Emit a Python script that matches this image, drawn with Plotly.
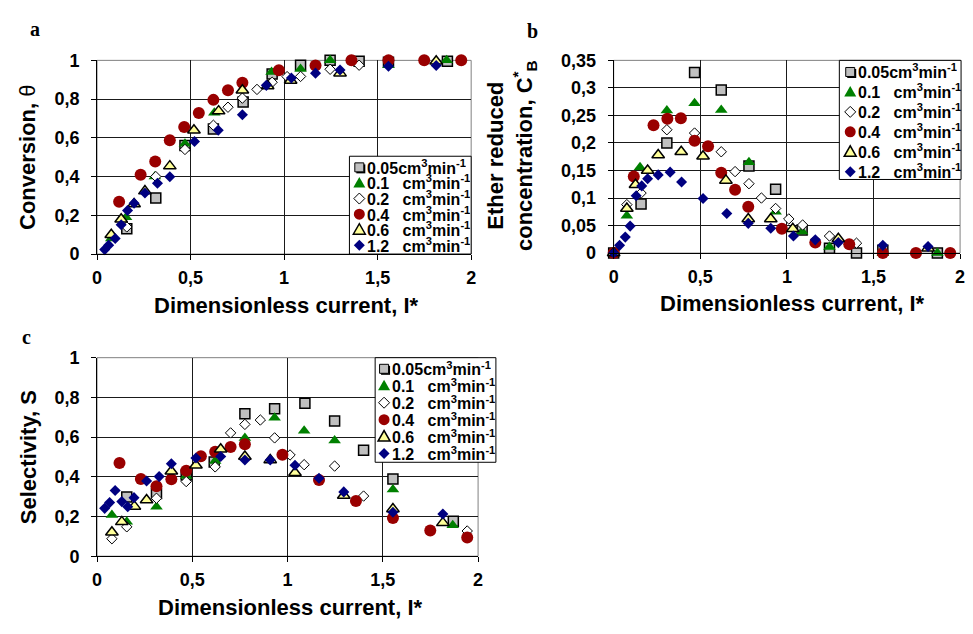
import plotly.graph_objects as go

W, H = 973, 634

# ---------------- labels / ticks ----------------
SERIES_LABELS = [
    "0.05cm<sup>3</sup>min<sup>-1</sup>",
    "0.1\u00a0\u00a0 cm<sup>3</sup>min<sup>-1</sup>",
    "0.2\u00a0\u00a0 cm<sup>3</sup>min<sup>-1</sup>",
    "0.4\u00a0\u00a0 cm<sup>3</sup>min<sup>-1</sup>",
    "0.6\u00a0\u00a0 cm<sup>3</sup>min<sup>-1</sup>",
    "1.2\u00a0\u00a0 cm<sup>3</sup>min<sup>-1</sup>",
]
X_TICKS = [0, 0.5, 1, 1.5, 2]
X_TICK_TEXT = ["0", "0,5", "1", "1,5", "2"]
Y_TICKS_AC = [0, 0.2, 0.4, 0.6, 0.8, 1.0]
Y_TICK_TEXT_AC = ["0", "0,2", "0,4", "0,6", "0,8", "1"]
Y_TICKS_B = [0, 0.05, 0.1, 0.15, 0.2, 0.25, 0.3, 0.35]
Y_TICK_TEXT_B = ["0", "0,05", "0,1", "0,15", "0,2", "0,25", "0,3", "0,35"]

# ---------------- panel a: conversion ----------------
A_X_005 = [0.159, 0.314, 0.470, 0.622, 0.781, 0.936, 1.088, 1.246, 1.401, 1.558, 1.873]
A_Y_005 = [0.13, 0.29, 0.56, 0.645, 0.785, 0.93, 0.975, 1.0, 0.995, 0.99, 0.995]
A_X_01 = [0.076, 0.155, 0.309, 0.470, 0.627, 0.933, 1.088, 1.246, 1.558, 1.869]
A_Y_01 = [0.08, 0.19, 0.40, 0.57, 0.73, 0.94, 0.955, 1.0, 0.975, 1.0]
A_X_02 = [0.159, 0.314, 0.470, 0.622, 0.700, 0.777, 0.855, 0.936, 1.016, 1.088, 1.246, 1.401]
A_Y_02 = [0.14, 0.40, 0.54, 0.665, 0.758, 0.805, 0.85, 0.887, 0.916, 0.917, 0.954, 0.975]
A_X_04 = [0.118, 0.233, 0.311, 0.389, 0.466, 0.544, 0.622, 0.700, 0.777, 0.972, 1.168, 1.360, 1.558, 1.749, 1.947]
A_Y_04 = [0.27, 0.41, 0.478, 0.588, 0.656, 0.728, 0.796, 0.846, 0.884, 0.949, 0.974, 1.0, 1.0, 1.0, 1.0]
A_X_06 = [0.076, 0.129, 0.198, 0.256, 0.389, 0.518, 0.650, 0.777, 0.912, 1.035, 1.299, 1.813]
A_Y_06 = [0.10, 0.18, 0.258, 0.325, 0.454, 0.639, 0.738, 0.846, 0.868, 0.896, 0.934, 0.995]
A_X_12 = [0.041, 0.062, 0.097, 0.129, 0.163, 0.198, 0.256, 0.323, 0.389, 0.521, 0.648, 0.777,
          0.905, 1.039, 1.168, 1.299, 1.558, 1.813]
A_Y_12 = [0.023, 0.046, 0.08, 0.151, 0.225, 0.262, 0.315, 0.366, 0.399, 0.581, 0.639, 0.719,
          0.871, 0.909, 0.934, 0.950, 0.97, 0.973]

# ---------------- panel b: ether reduced concentration ----------------
B_X_005 = [0.0, 0.158, 0.307, 0.467, 0.621, 0.781, 0.935, 1.088, 1.246, 1.402, 1.554, 1.869]
B_Y_005 = [0.0, 0.089, 0.200, 0.328, 0.296, 0.158, 0.116, 0.042, 0.009, 0.0, 0.005, 0.0]
B_X_01 = [0.0, 0.076, 0.152, 0.307, 0.467, 0.621, 0.781, 0.935, 1.088, 1.246, 1.554, 1.869]
B_Y_01 = [0.0, 0.068, 0.156, 0.259, 0.272, 0.260, 0.165, 0.075, 0.039, 0.011, 0.0, 0.0]
B_X_02 = [0.0, 0.076, 0.158, 0.307, 0.467, 0.621, 0.701, 0.781, 0.853, 0.935, 1.011, 1.091, 1.246, 1.402]
B_Y_02 = [0.0, 0.088, 0.109, 0.224, 0.218, 0.184, 0.148, 0.126, 0.100, 0.081, 0.062, 0.051, 0.031, 0.018]
B_X_04 = [0.0, 0.116, 0.230, 0.310, 0.388, 0.467, 0.545, 0.621, 0.701, 0.777, 0.971, 1.164, 1.360,
          1.554, 1.745, 1.943]
B_Y_04 = [0.0, 0.139, 0.232, 0.244, 0.245, 0.204, 0.194, 0.146, 0.115, 0.084, 0.044, 0.019, 0.016,
          0.0, 0.0, 0.0]
B_X_06 = [0.0, 0.076, 0.126, 0.196, 0.257, 0.390, 0.516, 0.648, 0.777, 0.907, 1.034, 1.297, 1.815]
B_Y_06 = [0.0, 0.081, 0.124, 0.150, 0.178, 0.184, 0.176, 0.132, 0.062, 0.062, 0.044, 0.026, 0.009]
B_X_12 = [0.0, 0.034, 0.067, 0.095, 0.130, 0.162, 0.196, 0.257, 0.326, 0.392, 0.516, 0.653, 0.777,
          0.907, 1.038, 1.164, 1.297, 1.554, 1.815]
B_Y_12 = [0.0, 0.014, 0.029, 0.049, 0.104, 0.122, 0.135, 0.142, 0.147, 0.129, 0.099, 0.072, 0.054,
          0.045, 0.031, 0.024, 0.019, 0.014, 0.012]

# ---------------- panel c: selectivity ----------------
C_X_005 = [0.156, 0.312, 0.468, 0.615, 0.776, 0.932, 1.091, 1.247, 1.399, 1.553, 1.870]
C_Y_005 = [0.298, 0.316, 0.409, 0.474, 0.718, 0.743, 0.770, 0.681, 0.534, 0.389, 0.176]
C_X_01 = [0.078, 0.156, 0.312, 0.468, 0.620, 0.776, 0.932, 1.087, 1.247, 1.553, 1.867]
C_Y_01 = [0.208, 0.173, 0.249, 0.404, 0.479, 0.596, 0.697, 0.632, 0.583, 0.336, 0.156]
C_X_02 = [0.078, 0.156, 0.312, 0.468, 0.620, 0.701, 0.776, 0.857, 0.932, 1.013, 1.087, 1.247, 1.399, 1.943]
C_Y_02 = [0.088, 0.148, 0.292, 0.376, 0.450, 0.621, 0.664, 0.686, 0.596, 0.510, 0.461, 0.454, 0.303, 0.127]
C_X_04 = [0.118, 0.230, 0.312, 0.390, 0.468, 0.545, 0.620, 0.701, 0.776, 0.973, 1.165, 1.359, 1.553,
          1.749, 1.943]
C_Y_04 = [0.469, 0.389, 0.352, 0.388, 0.430, 0.503, 0.526, 0.550, 0.564, 0.511, 0.384, 0.278, 0.192,
          0.130, 0.094]
C_X_06 = [0.078, 0.130, 0.196, 0.260, 0.390, 0.519, 0.649, 0.776, 0.909, 1.039, 1.295, 1.553, 1.815]
C_Y_06 = [0.121, 0.173, 0.251, 0.283, 0.428, 0.458, 0.539, 0.502, 0.485, 0.420, 0.306, 0.238, 0.168]
C_X_12 = [0.040, 0.066, 0.095, 0.130, 0.161, 0.194, 0.260, 0.326, 0.390, 0.519, 0.649, 0.776, 0.909,
          1.039, 1.165, 1.295, 1.553, 1.815]
C_Y_12 = [0.241, 0.270, 0.331, 0.275, 0.249, 0.295, 0.379, 0.401, 0.466, 0.495, 0.502, 0.485, 0.485,
          0.458, 0.393, 0.324, 0.221, 0.213]

PANEL_A = [(A_X_005, A_Y_005), (A_X_01, A_Y_01), (A_X_02, A_Y_02),
           (A_X_04, A_Y_04), (A_X_06, A_Y_06), (A_X_12, A_Y_12)]
PANEL_B = [(B_X_005, B_Y_005), (B_X_01, B_Y_01), (B_X_02, B_Y_02),
           (B_X_04, B_Y_04), (B_X_06, B_Y_06), (B_X_12, B_Y_12)]
PANEL_C = [(C_X_005, C_Y_005), (C_X_01, C_Y_01), (C_X_02, C_Y_02),
           (C_X_04, C_Y_04), (C_X_06, C_Y_06), (C_X_12, C_Y_12)]

# ---------------- styles ----------------
FILL = ["#c0c0c0", "#008000", "#ffffff", "#990000", "#ffff99", "#000080"]
EDGE = ["#000000", "#008000", "#000000", "#990000", "#000000", "#000080"]
EDGE_W = [1.5, 0, 1, 0, 1.5, 0]
SYMBOL = ["square", "triangle-up", "diamond", "circle", "triangle-up", "diamond"]
SIZE = [10, 11, 8, 12, 11, 8.5]

FONT = "Liberation Sans, Arial, sans-serif"


def px_x(p):
    return p / W


def px_y(p):
    return 1 - p / H


fig = go.Figure()

panels = [(PANEL_A, "x", "y"), (PANEL_B, "x2", "y2"), (PANEL_C, "x3", "y3")]
for data, xa, ya in panels:
    for i, (xs, ys) in enumerate(data):
        fig.add_trace(go.Scatter(
            x=xs, y=ys, mode="markers", name=SERIES_LABELS[i],
            marker=dict(symbol=SYMBOL[i], color=FILL[i], size=SIZE[i],
                        line=dict(color=EDGE[i], width=EDGE_W[i])),
            xaxis=xa, yaxis=ya, cliponaxis=False, showlegend=False,
        ))

tickfont = dict(family=FONT, size=18, color="#000000", weight="bold")


def xaxis(domain, anchor):
    return dict(domain=domain, anchor=anchor, range=[0, 2], tickvals=X_TICKS, ticktext=X_TICK_TEXT,
                ticks="outside", ticklen=5, tickcolor="#000000", showline=True, linecolor="#000000",
                linewidth=1, showgrid=True, gridcolor="#1a1a1a", gridwidth=1, zeroline=False,
                tickfont=tickfont, fixedrange=True, ticklabelstandoff=2)


def yaxis(domain, anchor, rng, tv, tt):
    return dict(domain=domain, anchor=anchor, range=rng, tickvals=tv, ticktext=tt,
                ticks="outside", ticklen=5, tickcolor="#000000", showline=True, linecolor="#000000",
                linewidth=1, showgrid=True, gridcolor="#1a1a1a", gridwidth=1, zeroline=False,
                tickfont=tickfont, fixedrange=True, ticklabelstandoff=8)


A_XD = [px_x(93), px_x(471)]
A_YD = [px_y(252), px_y(52)]
B_XD = [px_x(615), px_x(965)]
B_YD = [px_y(251), px_y(52)]
C_XD = [px_x(93), px_x(478)]
C_YD = [px_y(564), px_y(359)]

fig.update_layout(
    width=W, height=H, autosize=False,
    margin=dict(l=0, r=0, t=0, b=0),
    paper_bgcolor="#ffffff", plot_bgcolor="#ffffff",
    showlegend=False,
    xaxis=xaxis(A_XD, "y"), yaxis=yaxis(A_YD, "x", [0, 1], Y_TICKS_AC, Y_TICK_TEXT_AC),
    xaxis2=xaxis(B_XD, "y2"), yaxis2=yaxis(B_YD, "x2", [0, 0.35], Y_TICKS_B, Y_TICK_TEXT_B),
    xaxis3=xaxis(C_XD, "y3"), yaxis3=yaxis(C_YD, "x3", [0, 1], Y_TICKS_AC, Y_TICK_TEXT_AC),
)

# plot-area borders (gray)
for xr, yr in [("x", "y"), ("x2", "y2"), ("x3", "y3")]:
    fig.add_shape(type="rect", xref=f"{xr} domain", yref=f"{yr} domain", x0=0, x1=1, y0=0, y1=1,
                  line=dict(color="#808080", width=1), layer="below")

# ---------------- legends (drawn as boxes, symbol shapes and text) ----------------
LEG_FONT = dict(family=FONT, size=16, color="#000000", weight="bold")


def legend_symbol(i, cx, cy):
    common = dict(xref="paper", yref="paper", xsizemode="pixel", ysizemode="pixel",
                  xanchor=px_x(cx), yanchor=px_y(cy), layer="above")
    if i == 0:
        fig.add_shape(type="rect", x0=-3, x1=6, y0=-6, y1=3, fillcolor="#000000",
                      line=dict(width=0), **common)
        fig.add_shape(type="rect", x0=-4.5, x1=4.5, y0=-4.5, y1=4.5, fillcolor=FILL[0],
                      line=dict(color="#000000", width=1), **common)
    elif i in (1, 4):
        fig.add_shape(type="path", path="M-6,-4.5 L6,-4.5 L0,6 Z", fillcolor=FILL[i],
                      line=dict(color=EDGE[i], width=EDGE_W[i] if EDGE_W[i] else 0), **common)
    elif i in (2, 5):
        fig.add_shape(type="path", path="M0,5.5 L5.5,0 L0,-5.5 L-5.5,0 Z", fillcolor=FILL[i],
                      line=dict(color=EDGE[i], width=EDGE_W[i] if EDGE_W[i] else 0), **common)
    else:
        fig.add_shape(type="circle", x0=-5.5, x1=5.5, y0=-5.5, y1=5.5, fillcolor=FILL[i],
                      line=dict(width=0), **common)


def add_legend(box, sym_x, text_x, y_first, dy):
    x0, y0, x1, y1 = box
    fig.add_shape(type="rect", xref="paper", yref="paper", x0=px_x(x0), x1=px_x(x1),
                  y0=px_y(y1), y1=px_y(y0), fillcolor="#ffffff",
                  line=dict(color="#000000", width=1), layer="above")
    for i, lab in enumerate(SERIES_LABELS):
        cy = y_first + i * dy
        legend_symbol(i, sym_x, cy)
        fig.add_annotation(xref="paper", yref="paper", x=px_x(text_x), y=px_y(cy - 0.5),
                           text=lab, showarrow=False, font=LEG_FONT,
                           xanchor="left", yanchor="middle", height=int(dy), valign="middle",
                           borderpad=0)


add_legend((348, 151, 471, 252), 358, 365, 162.5, 16.1)
add_legend((843, 52, 966, 175), 854, 861, 64, 20.6)
add_legend((374, 359, 496, 467), 383, 390, 370.5, 17.5)

# ---------------- titles ----------------
title_font = dict(family=FONT, size=22, color="#000000")
ann = []
ann.append(dict(x=px_x(284), y=px_y(305), text="<b>Dimensionless current, I*</b>"))
ann.append(dict(x=px_x(796), y=px_y(303), text="<b>Dimensionless current, I*</b>"))
ann.append(dict(x=px_x(288), y=px_y(617), text="<b>Dimensionless current, I*</b>"))
ann.append(dict(x=px_x(22), y=px_y(152), text="<b>Conversion, </b>θ", textangle=-90))
ann.append(dict(x=px_x(512), y=px_y(150),
                text="<b>Ether reduced</b><br><b>concentration, C<sup>*</sup><sub>B</sub></b>",
                textangle=-90))
ann.append(dict(x=px_x(24), y=px_y(462), text="<b>Selectivity, S</b>", textangle=-90))
for a in ann:
    fig.add_annotation(xref="paper", yref="paper", showarrow=False, font=title_font,
                       xanchor="center", yanchor="middle", **a)

letter_font = dict(family="Liberation Serif, Times New Roman, serif", size=20, color="#000000")
for txt, lx, ly in [("a", 30, 20), ("b", 533, 22), ("c", 22, 338)]:
    fig.add_annotation(xref="paper", yref="paper", x=px_x(lx), y=px_y(ly), text=f"<b>{txt}</b>",
                       showarrow=False, font=letter_font, xanchor="center", yanchor="middle")

fig.write_html("out.html")
